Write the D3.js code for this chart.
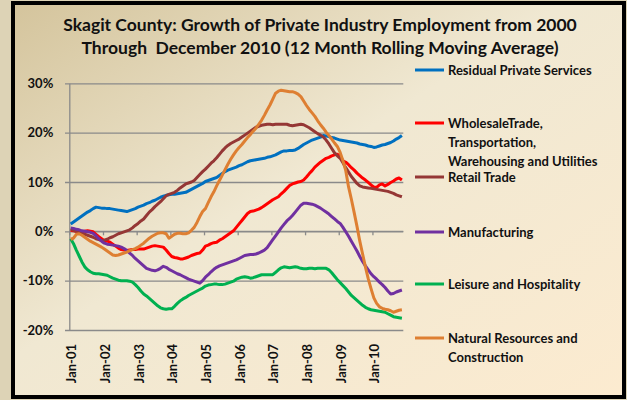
<!DOCTYPE html>
<html>
<head>
	<title></title>
	<style>
		body { margin: 0; }
		text { font-family: Lato, "Open Sans", sans-serif; font-weight: bold; fill: #111; }
	</style>
</head>
<body>

<svg id="container" width="627" height="400"></svg>

<script src="https://d3js.org/d3.v7.min.js"></script>
<script>
	// -------------------------------------------------------------
	// Data: monthly 12 month rolling growth since 2000, Jan-01 .. Nov-10
	// -------------------------------------------------------------

	const yearLabels = ['Jan-01', 'Jan-02', 'Jan-03', 'Jan-04', 'Jan-05', 'Jan-06', 'Jan-07', 'Jan-08', 'Jan-09', 'Jan-10']
	const yTicks = [-20, -10, 0, 10, 20, 30]

	const residualServices = [
		1.5, 1.9, 2.3, 2.7, 3.1, 3.5, 3.9, 4.2, 4.6, 4.9, 4.8, 4.7,
		4.7, 4.6, 4.6, 4.5, 4.4, 4.3, 4.2, 4.1, 4.0, 4.2, 4.4, 4.6,
		4.9, 5.1, 5.3, 5.6, 5.8, 6.1, 6.3, 6.6, 6.9, 7.1, 7.3, 7.4,
		7.5, 7.5, 7.6, 7.7, 7.8, 7.9, 8.2, 8.5, 8.8, 9.1, 9.4, 9.7,
		10.1, 10.3, 10.5, 10.7, 10.9, 11.3, 11.7, 12.1, 12.4, 12.6, 12.8, 13.0,
		13.3, 13.5, 13.8, 14.1, 14.3, 14.4, 14.5, 14.6, 14.7, 14.8, 15.0, 15.1,
		15.3, 15.5, 15.8, 16.1, 16.3, 16.3, 16.4, 16.4, 16.5, 16.8, 17.2, 17.6,
		17.9, 18.2, 18.5, 18.7, 18.9, 19.1, 19.4, 19.3, 19.2, 19.0, 18.9, 18.7,
		18.5, 18.4, 18.3, 18.2, 18.1, 18.0, 17.9, 17.7, 17.6, 17.5, 17.3, 17.2,
		17.0, 17.1, 17.3, 17.5, 17.6, 17.8, 18.0, 18.3, 18.7, 19.0, 19.4
	]

	const wholesaleTrade = [
		0.2, 0.1, 0.0, -0.1, -0.1, 0.0, 0.1, 0.0, -0.1, -0.6, -1.1, -1.5,
		-1.9, -2.0, -2.2, -2.6, -3.0, -3.4, -3.7, -3.8, -3.9, -3.8, -3.7, -3.7,
		-3.6, -3.6, -3.6, -3.4, -3.2, -3.0, -2.9, -3.0, -3.1, -3.2, -3.8, -4.5,
		-5.1, -5.3, -5.4, -5.6, -5.6, -5.4, -5.2, -4.9, -4.7, -4.5, -4.4, -3.8,
		-3.0, -2.8, -2.5, -2.3, -2.2, -1.8, -1.5, -1.1, -0.7, -0.3, 0.1, 0.8,
		1.5, 2.2, 2.9, 3.6, 4.0, 4.1, 4.3, 4.5, 4.8, 5.2, 5.6, 6.0,
		6.4, 6.7, 7.0, 7.6, 8.1, 8.7, 9.3, 9.6, 9.8, 10.0, 10.1, 10.4,
		11.0, 11.7, 12.3, 13.0, 13.5, 14.0, 14.4, 14.8, 15.0, 15.3, 15.5, 15.6,
		15.2, 14.3, 14.0, 13.5, 12.9, 12.4, 11.8, 11.3, 10.8, 10.4, 9.9, 9.4,
		9.0, 8.9, 9.4, 9.6, 9.2, 9.5, 9.9, 10.2, 10.6, 10.8, 10.4
	]

	const retailTrade = [
		0.5, 0.2, 0.0, -0.2, -0.4, -0.6, -0.8, -1.0, -1.2, -1.5, -1.7, -1.9,
		-1.8, -1.6, -1.3, -1.1, -0.8, -0.5, -0.3, -0.1, 0.1, 0.3, 0.7, 1.2,
		1.6, 2.1, 2.5, 3.2, 3.9, 4.4, 5.0, 5.5, 6.0, 6.6, 7.2, 7.5,
		7.7, 7.9, 8.3, 8.8, 9.2, 9.6, 9.8, 10.0, 10.3, 10.9, 11.5, 12.1,
		12.6, 13.2, 13.8, 14.3, 14.9, 15.6, 16.3, 16.9, 17.4, 17.8, 18.1, 18.4,
		18.7, 19.1, 19.5, 19.9, 20.3, 20.7, 21.1, 21.3, 21.5, 21.6, 21.7, 21.7,
		21.6, 21.7, 21.7, 21.7, 21.7, 21.7, 21.5, 21.4, 21.5, 21.6, 21.7, 21.6,
		21.3, 21.0, 20.6, 20.2, 19.8, 19.5, 19.1, 18.5, 17.7, 16.8, 15.9, 15.3,
		14.8, 13.9, 12.9, 12.0, 11.1, 10.4, 9.7, 9.2, 9.0, 8.9, 8.8, 8.7,
		8.6, 8.5, 8.4, 8.3, 8.2, 8.1, 7.9, 7.7, 7.4, 7.2, 7.0
	]

	const manufacturing = [
		0.7, 0.6, 0.4, 0.3, 0.1, 0.0, -0.1, -0.2, -0.4, -0.9, -1.5, -2.0,
		-2.4, -2.6, -2.7, -2.8, -2.9, -3.0, -3.2, -3.5, -3.9, -4.4, -4.9, -5.5,
		-6.0, -6.5, -7.0, -7.5, -7.7, -7.9, -8.0, -7.8, -7.5, -7.1, -7.3, -7.7,
		-8.0, -8.3, -8.6, -8.8, -9.1, -9.4, -9.7, -9.9, -10.1, -10.3, -10.5, -10.0,
		-9.3, -8.8, -8.2, -7.7, -7.3, -7.0, -6.8, -6.6, -6.4, -6.2, -6.0, -5.8,
		-5.5, -5.2, -4.9, -4.8, -4.7, -4.7, -4.6, -4.4, -4.1, -3.8, -3.3, -2.5,
		-1.7, -0.9, -0.1, 0.7, 1.4, 2.1, 2.6, 3.2, 3.9, 4.6, 5.3, 5.7,
		5.7, 5.6, 5.5, 5.3, 5.0, 4.7, 4.3, 3.9, 3.5, 3.0, 2.5, 2.0,
		1.6, 0.8, -0.1, -1.0, -2.0, -3.0, -4.0, -5.1, -6.1, -7.0, -7.8, -8.6,
		-9.2, -9.7, -10.3, -10.8, -11.4, -12.1, -12.7, -12.6, -12.3, -12.1, -11.9
	]

	const leisureHospitality = [
		-1.5, -2.5, -3.8, -5.0, -6.2, -7.2, -7.8, -8.2, -8.5, -8.6, -8.6, -8.7,
		-8.8, -8.9, -9.2, -9.5, -9.7, -9.9, -10.0, -10.0, -10.0, -10.1, -10.3, -10.8,
		-11.4, -12.1, -12.7, -13.1, -13.6, -14.1, -14.6, -15.1, -15.5, -15.7, -15.8, -15.7,
		-15.7, -15.2, -14.6, -14.1, -13.7, -13.4, -13.0, -12.7, -12.4, -12.1, -11.8, -11.5,
		-11.1, -10.9, -10.8, -10.7, -10.7, -10.8, -10.8, -10.7, -10.5, -10.3, -10.1, -9.7,
		-9.5, -9.3, -9.2, -9.3, -9.5, -9.4, -9.2, -9.0, -8.8, -8.8, -8.8, -8.8,
		-8.8, -8.3, -7.8, -7.4, -7.2, -7.3, -7.4, -7.3, -7.2, -7.3, -7.5, -7.6,
		-7.6, -7.5, -7.5, -7.6, -7.5, -7.5, -7.5, -7.5, -7.8, -8.4, -9.1, -9.8,
		-10.4, -11.0, -11.6, -12.3, -13.0, -13.5, -14.0, -14.5, -15.0, -15.4, -15.7, -15.9,
		-16.0, -16.1, -16.2, -16.3, -16.4, -16.7, -17.0, -17.3, -17.4, -17.5, -17.6
	]

	const naturalResources = [
		-1.6, -1.4, -0.6, -0.5, -0.8, -1.2, -1.6, -2.0, -2.3, -2.6, -2.9, -3.2,
		-3.6, -4.0, -4.4, -4.8, -4.9, -4.8, -4.6, -4.4, -4.2, -3.9, -3.7, -3.5,
		-3.2, -2.8, -2.4, -1.9, -1.4, -1.0, -0.7, -0.4, -0.3, -0.3, -0.5, -1.4,
		-1.0, -0.6, -0.4, -0.4, -0.5, -0.5, -0.3, 0.2, 0.8, 1.8, 3.0, 4.0,
		4.6, 5.8, 7.0, 8.0, 9.2, 10.3, 11.4, 12.5, 13.6, 14.6, 15.5, 16.3,
		17.0, 17.6, 18.3, 19.0, 19.6, 20.3, 20.9, 21.7, 22.5, 23.5, 24.6, 25.6,
		26.8, 28.0, 28.4, 28.6, 28.5, 28.4, 28.3, 28.3, 28.1, 27.8, 27.3, 26.4,
		25.5, 24.7, 24.0, 23.3, 22.4, 21.6, 20.9, 20.1, 19.4, 18.7, 17.9, 17.2,
		16.0, 14.3, 12.3, 9.0, 6.5, 3.8, 1.0, -2.0, -4.6, -7.2, -9.6, -11.6,
		-13.5, -14.6, -15.3, -15.6, -15.8, -15.9, -16.1, -16.4, -16.2, -16.0, -15.9
	]

	const seriesNames = ['Residual Private Services', 'WholesaleTrade,|Transportation,|Warehousing and Utilities',
		'Retail Trade', 'Manufacturing', 'Leisure and Hospitality', 'Natural Resources and|Construction']
	const seriesColors = ['#0070C0', '#FF0000', '#953735', '#7030A0', '#00B050', '#DE7F32']
	const seriesValues = [residualServices, wholesaleTrade, retailTrade, manufacturing, leisureHospitality, naturalResources]

	// -------------------------------------------------------------

	const svg = d3.select('#container')
	const n = residualServices.length

	// background gradient
	const defs = svg.append('defs')
	const grad = defs.append('linearGradient')
		.attr('id', 'bg')
		.attr('x1', '0%').attr('y1', '0%')
		.attr('x2', '100%').attr('y2', '100%')
	grad.append('stop').attr('offset', '0%').attr('stop-color', '#d4c49c')
	grad.append('stop').attr('offset', '45%').attr('stop-color', '#f0e8d2')
	grad.append('stop').attr('offset', '100%').attr('stop-color', '#fcebd0')

	svg.append('rect')
		.attr('width', 627).attr('height', 400)
		.attr('fill', '#ddd3b6')
	svg.append('rect')
		.attr('x', 13).attr('y', 3)
		.attr('width', 611).attr('height', 394)
		.attr('fill', 'url(#bg)')
		.attr('stroke', '#000')
		.attr('stroke-width', 4)

	// title (keeps the double space of the original)
	const title = svg.append('text')
		.attr('text-anchor', 'middle')
		.attr('xml:space', 'preserve')
		.style('white-space', 'pre')
		.style('font-size', '17.5px')
	title.append('tspan').attr('x', 320).attr('y', 31).text('Skagit County: Growth of Private Industry Employment from 2000')
	title.append('tspan').attr('x', 320).attr('y', 54).text('Through  December 2010 (12 Month Rolling Moving Average)')

	// scales
	const x = d3.scaleLinear()
		.domain([0, n])
		.range([69.3, 403.3])
	const y = d3.scaleLinear()
		.domain([-20, 30])
		.range([330, 83.3])

	// gridlines with small ticks left of the axis
	svg.append('g')
		.attr('transform', 'translate(403.3,0)')
		.call(d3.axisLeft(y).tickValues(yTicks).tickSize(403.3 - 65).tickFormat(''))
		.call(g => g.select('.domain').remove())
		.call(g => g.selectAll('line').attr('stroke', '#8a8a8a').attr('stroke-width', 1.3))

	// y axis
	svg.append('g')
		.attr('transform', 'translate(69.3,0)')
		.call(d3.axisLeft(y).tickValues(yTicks).tickSize(0).tickPadding(16).tickFormat(d => d + '%'))
		.call(g => g.select('.domain').attr('stroke', '#8a8a8a').attr('stroke-width', 1.3))
		.call(g => g.selectAll('text').style('font-size', '13px').style('font-family', 'Lato').style('font-weight', 'bold').attr('fill', '#111'))

	// x axis at 0% with ticks every 12 months
	const yearTicks = d3.range(0, n, 12)
	svg.append('g')
		.attr('transform', `translate(0,${y(0)})`)
		.call(d3.axisBottom(x).tickValues(yearTicks).tickSize(4).tickFormat(''))
		.call(g => g.select('.domain').remove())
		.call(g => g.selectAll('line').attr('stroke', '#8a8a8a').attr('stroke-width', 1.3))
	svg.append('line')
		.attr('x1', x(0)).attr('x2', x(n))
		.attr('y1', y(0)).attr('y2', y(0))
		.attr('stroke', '#8a8a8a').attr('stroke-width', 1.3)

	// x labels rotated at the bottom
	svg.append('g')
		.selectAll('text')
		.data(yearLabels)
		.enter()
		.append('text')
		.attr('transform', (d, i) => `translate(${x(i * 12 + 0.5) + 1},344) rotate(-90)`)
		.attr('text-anchor', 'end')
		.attr('dy', '0.35em')
		.style('font-size', '13px')
		.text(d => d)

	// lines
	const line = d3.line()
		.x((d, i) => x(i + 0.5))
		.y(d => y(d))

	svg.append('g')
		.selectAll('path')
		.data(seriesValues)
		.enter()
		.append('path')
		.attr('d', d => line(d))
		.attr('fill', 'none')
		.attr('stroke', (d, i) => seriesColors[i])
		.attr('stroke-width', 3)
		.attr('stroke-linejoin', 'round')

	// legend
	const legendY = [70, 123, 177, 232, 284, 338]
	const legend = svg.append('g')
		.selectAll('g')
		.data(seriesNames)
		.enter()
		.append('g')
		.attr('transform', (d, i) => `translate(415,${legendY[i]})`)

	legend.append('line')
		.attr('x1', 0).attr('x2', 29)
		.attr('stroke', (d, i) => seriesColors[i])
		.attr('stroke-width', 3)

	legend.append('text')
		.attr('dy', '0.35em')
		.style('font-size', '13px')
		.selectAll('tspan')
		.data(d => d.split('|'))
		.enter()
		.append('tspan')
		.attr('x', 33)
		.attr('dy', (d, i) => i === 0 ? '0.35em' : '19px')
		.text(d => d)
</script>
</body>
</html>
